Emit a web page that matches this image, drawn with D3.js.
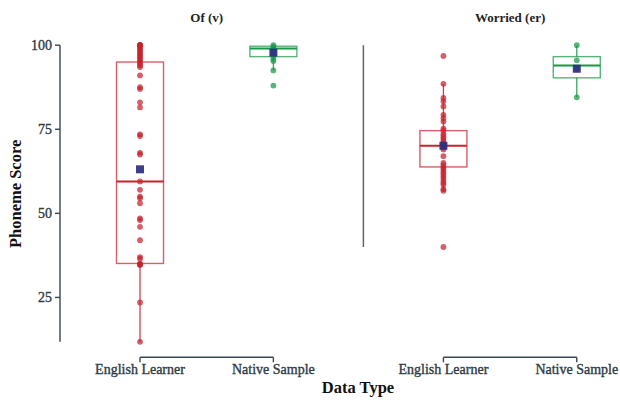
<!DOCTYPE html>
<html>
<head>
<meta charset="utf-8">
<script src="https://cdn.jsdelivr.net/npm/d3@7"></script>
<style>
  html, body { margin: 0; padding: 0; background: #fff; }
  svg { display: block; }
  text { font-family: "Liberation Serif", "DejaVu Serif", serif; }
</style>
</head>
<body>
<svg id="chart" width="620" height="401"></svg>
<script>
// Facets (phonemes) and groups within each facet
const facets = ["Of (v)", "Worried (er)"];
const groups = ["English Learner", "Native Sample"];
const yTicks = [25, 50, 75, 100];

// Individual phoneme scores, one array per facet/group
const ofLearner = [100, 100, 100, 100, 99.5, 99, 98.5, 98, 97.5, 97, 96.5, 96, 95.5, 95, 94.5, 94, 93.5,
  91, 87.5, 87, 83, 81.5, 73.5, 73, 68, 67.5, 59.5, 57, 55, 54.5, 53, 48.5, 48, 46, 42,
  37, 36.5, 35, 35, 34.7, 34.7, 23.5, 11.8];
const ofNative = [100, 99.5, 99, 98.5, 98, 97, 96, 95.3, 92.5, 88];
const worriedLearner = [96.8, 88.5, 84.3, 83.3, 81.8, 79.3, 78.3, 77.3, 75.2, 74.5, 73.5, 72.8, 72.2,
  71.5, 70.8, 70.2, 69.5, 69, 67, 65, 64.3, 63.6, 63, 62.2, 61.5, 60.8, 60, 59.2, 58.5, 57.2, 56.7, 40];
const worriedNative = [100, 95.5, 93, 84.5];

// Box summaries: [lower whisker, Q1, median, Q3, upper whisker]
const ofLearnerBox = [11.8, 35.1, 59.5, 95.0, 100];
const ofNativeBox = [92.5, 96.6, 99.0, 99.7, 100];
const worriedLearnerBox = [56.7, 63.8, 70.1, 74.6, 88.5];
const worriedNativeBox = [84.5, 90.3, 94.0, 96.6, 100];

// Group means
const ofMeans = [63.1, 97.8];
const worriedMeans = [70.1, 93.0];

const points = [[ofLearner, ofNative], [worriedLearner, worriedNative]];
const boxes = [[ofLearnerBox, ofNativeBox], [worriedLearnerBox, worriedNativeBox]];
const means = [ofMeans, worriedMeans];

const groupColor = { "English Learner": "#c5232d", "Native Sample": "#179846" };
const axisColor = "#3a464f";
const tickText = "#2e3b45";

const svg = d3.select("#chart");

const panelLeft = 60, panelWidth = 293.4, panelGap = 10;
const panelTop = 30.4, panelBottom = 357.3;

const y = d3.scaleLinear().domain([7.2, 104.4]).range([panelBottom, panelTop]);

// Slightly heavier regular-weight labels
function tickLabel(sel) {
  return sel.attr("font-size", 14).attr("fill", tickText)
    .attr("stroke", tickText).attr("stroke-width", 0.35);
}

// Y axis on the left panel, capped to the data range
const allValues = points.flat(2);
const yExt = d3.extent(allValues);
const yAxisG = svg.append("g").attr("transform", `translate(${panelLeft},0)`);
yAxisG.append("line")
  .attr("x1", 0).attr("x2", 0)
  .attr("y1", y(yExt[0])).attr("y2", y(yExt[1]))
  .attr("stroke", axisColor).attr("stroke-width", 1.4);
yTicks.forEach(t => {
  yAxisG.append("line").attr("x1", -5).attr("x2", 0)
    .attr("y1", y(t)).attr("y2", y(t))
    .attr("stroke", axisColor).attr("stroke-width", 1.4);
  yAxisG.append("text").attr("x", -8).attr("y", y(t)).attr("dy", "0.35em")
    .attr("text-anchor", "end").call(tickLabel)
    .text(t);
});

facets.forEach((facet, fi) => {
  const x0 = panelLeft + fi * (panelWidth + panelGap);
  const x = d3.scalePoint().domain(groups).range([x0, x0 + panelWidth]).padding(0.6);
  const g = svg.append("g");

  // Strip title
  g.append("text").attr("x", x0 + panelWidth / 2).attr("y", 22)
    .attr("text-anchor", "middle").attr("font-size", 13).attr("font-weight", "bold")
    .attr("fill", "#1e2326")
    .text(facet);

  // Repeated, unlabelled y axis line on later panels
  if (fi > 0) {
    const ext = d3.extent(points[fi].flat());
    g.append("line").attr("x1", x0).attr("x2", x0)
      .attr("y1", y(ext[0])).attr("y2", y(ext[1]))
      .attr("stroke", "#5d666c").attr("stroke-width", 1.5);
  }

  // Capped x axis bracket with ticks and labels
  const xa = g.append("g");
  xa.append("line").attr("x1", x(groups[0])).attr("x2", x(groups[groups.length - 1]))
    .attr("y1", panelBottom).attr("y2", panelBottom)
    .attr("stroke", axisColor).attr("stroke-width", 1.4);
  groups.forEach(gr => {
    xa.append("line").attr("x1", x(gr)).attr("x2", x(gr))
      .attr("y1", panelBottom).attr("y2", panelBottom + 5)
      .attr("stroke", axisColor).attr("stroke-width", 1.4);
    xa.append("text").attr("x", x(gr)).attr("y", panelBottom + 17)
      .attr("text-anchor", "middle").call(tickLabel)
      .text(gr);
  });

  const boxW = 47;
  groups.forEach((gr, gi) => {
    const cx = x(gr);
    const col = groupColor[gr];
    const [lo, q1, med, q3, hi] = boxes[fi][gi];

    // Whiskers
    g.append("line").attr("x1", cx).attr("x2", cx).attr("y1", y(q1)).attr("y2", y(lo))
      .attr("stroke", col).attr("stroke-width", 1.3).attr("opacity", 0.85);
    g.append("line").attr("x1", cx).attr("x2", cx).attr("y1", y(q3)).attr("y2", y(hi))
      .attr("stroke", col).attr("stroke-width", 1.3).attr("opacity", 0.85);

    // Box
    g.append("rect").attr("x", cx - boxW / 2).attr("y", y(q3))
      .attr("width", boxW).attr("height", y(q1) - y(q3))
      .attr("fill", "none").attr("stroke", col).attr("stroke-width", 1.4)
      .attr("opacity", 0.72);
    g.append("line").attr("x1", cx - boxW / 2).attr("x2", cx + boxW / 2)
      .attr("y1", y(med)).attr("y2", y(med))
      .attr("stroke", col).attr("stroke-width", 2);

    // Individual scores
    g.selectAll(null).data(points[fi][gi]).enter().append("circle")
      .attr("cx", cx).attr("cy", d => y(d)).attr("r", 2.9)
      .attr("fill", col).attr("opacity", 0.72);

    // Mean marker
    const m = means[fi][gi];
    g.append("rect").attr("x", cx - 4).attr("y", y(m) - 4)
      .attr("width", 8).attr("height", 8)
      .attr("fill", "#2b2f80").attr("opacity", 0.92);
  });
});

// Axis titles
svg.append("text").attr("x", 358).attr("y", 393)
  .attr("text-anchor", "middle").attr("font-size", 16.5).attr("font-weight", "bold")
  .attr("fill", "#111")
  .text("Data Type");
svg.append("text").attr("transform", `translate(21,${(panelTop + panelBottom) / 2}) rotate(-90)`)
  .attr("text-anchor", "middle").attr("font-size", 16.5).attr("font-weight", "bold")
  .attr("fill", "#111")
  .text("Phoneme Score");
</script>
</body>
</html>
